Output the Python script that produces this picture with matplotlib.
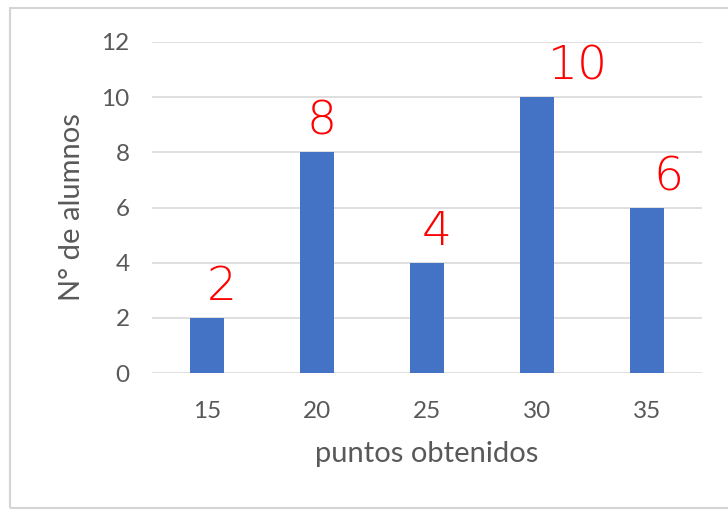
import matplotlib
matplotlib.use("Agg")
import matplotlib.pyplot as plt
from matplotlib.patches import Rectangle

categories = ["15", "20", "25", "30", "35"]
values = [2, 8, 4, 10, 6]
yticks = [0, 2, 4, 6, 8, 10, 12]
notes = ["2", "8", "4", "10", "6"]
note_dx = [15, 5, 10, 41, 21]  # pixel offsets of handwritten notes

plt.rcParams['font.family'] = ['Lato', 'DejaVu Sans']

fig = plt.figure(figsize=(7.28, 5.13), dpi=100)
fig.patch.set_facecolor("white")
fig.patches.append(Rectangle((10 / 728, 5 / 513), 1.2, 500 / 513, transform=fig.transFigure,
                             fill=False, edgecolor="#d4d4d4", linewidth=1.5, figure=fig))

ax = fig.add_axes([152 / 728, (513 - 373) / 513, 550 / 728, 331 / 513])
x = list(range(len(categories)))
ax.bar(x, values, width=0.31, color="#4472C4", zorder=3)
ax.set_xlim(-0.5, len(categories) - 0.5)
ax.set_ylim(0, 12)
ax.set_yticks(yticks)
ax.set_xticks(x)
ax.set_xticklabels(categories)
ax.grid(axis="y", color="#d9d9d9", linewidth=1.2, zorder=0)
for s in ax.spines.values():
    s.set_visible(False)
ax.tick_params(length=0, labelsize=17.5, colors="#595959", pad=20)
ax.tick_params(axis="y", pad=16)
ax.set_xlabel("puntos obtenidos", fontsize=21, color="#595959", labelpad=14)
ax.set_ylabel("N° de alumnos", fontsize=21, color="#595959", labelpad=12)

for xi, v, n, dx in zip(x, values, notes, note_dx):
    ax.annotate(n, (xi, v + 1.1), xytext=(dx * 0.72, 0), textcoords="offset points",
                ha="center", va="center", color="red", fontsize=34,
                family=["DejaVu Sans"], fontweight="light")

fig.savefig("out.png", dpi=100)
